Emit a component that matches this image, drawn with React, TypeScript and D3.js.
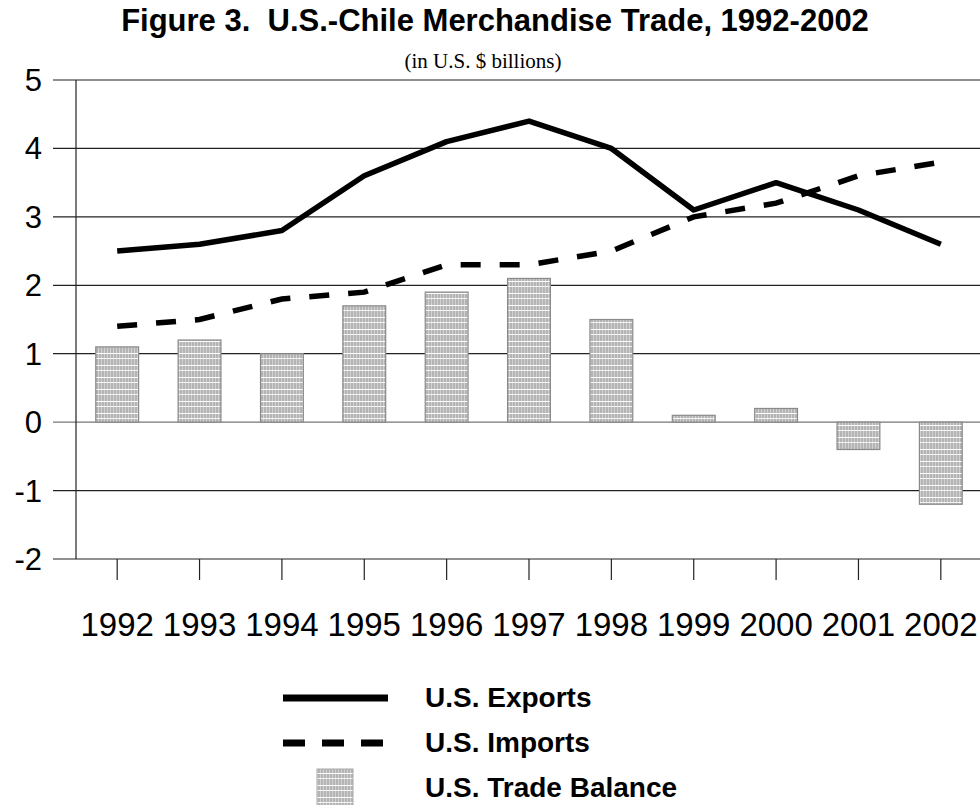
import { useEffect, useRef } from 'react';
import * as d3 from 'd3';

const years = ['1992', '1993', '1994', '1995', '1996', '1997', '1998', '1999', '2000', '2001', '2002'];
const exportsData = [2.5, 2.6, 2.8, 3.6, 4.1, 4.4, 4.0, 3.1, 3.5, 3.1, 2.6];
const importsData = [1.4, 1.5, 1.8, 1.9, 2.3, 2.3, 2.5, 3.0, 3.2, 3.6, 3.8];
const balanceData = [1.1, 1.2, 1.0, 1.7, 1.9, 2.1, 1.5, 0.1, 0.2, -0.4, -1.2];
const yTicks = [-2, -1, 0, 1, 2, 3, 4, 5];
const legendItems = ['U.S. Exports', 'U.S. Imports', 'U.S. Trade Balance'];

export default function App() {
  const svgRef = useRef<SVGSVGElement>(null);

  useEffect(() => {
    if (!svgRef.current) return;
    const svg = d3.select(svgRef.current);
    svg.selectAll('*').remove();

    const W = 980;
    const H = 805;
    const left = 76;
    const right = 982;
    const top = 80;
    const bottom = 559;
    const sans = 'Arial, "Liberation Sans", sans-serif';

    // hatch pattern for the balance bars
    const defs = svg.append('defs');
    const pat = defs.append('pattern')
      .attr('id', 'hatch')
      .attr('patternUnits', 'userSpaceOnUse')
      .attr('width', 3)
      .attr('height', 12);
    pat.append('rect').attr('width', 3).attr('height', 12).attr('fill', '#b4b4b4');
    pat.append('rect').attr('x', 2).attr('width', 1).attr('height', 12).attr('fill', '#d2d2d2');
    pat.append('rect').attr('y', 5).attr('width', 3).attr('height', 1).attr('fill', '#ffffff');
    pat.append('rect').attr('y', 10).attr('width', 3).attr('height', 1).attr('fill', '#f4f4f4');

    const x = d3.scaleBand<string>().domain(years).range([left, right]).paddingInner(0.48).paddingOuter(0.24);
    const xc = (d: string) => (x(d) as number) + x.bandwidth() / 2;
    const y = d3.scaleLinear().domain([-2, 5]).range([bottom, top]);

    // title
    svg.append('text')
      .attr('x', 495).attr('y', 31)
      .attr('text-anchor', 'middle')
      .style('white-space', 'pre')
      .style('font-family', sans)
      .style('font-weight', 'bold')
      .style('font-size', '31px')
      .text('Figure 3.  U.S.-Chile Merchandise Trade, 1992-2002');
    svg.append('text')
      .attr('x', 483).attr('y', 68)
      .attr('text-anchor', 'middle')
      .style('font-family', '"Times New Roman", "Liberation Serif", serif')
      .style('font-size', '21px')
      .text('(in U.S. $ billions)');

    // gridlines
    svg.append('g').selectAll('line')
      .data(yTicks)
      .enter()
      .append('line')
      .attr('x1', 53).attr('x2', W)
      .attr('y1', d => y(d)).attr('y2', d => y(d))
      .attr('stroke', d => (d === 0 ? '#777' : '#222'))
      .attr('stroke-width', 1.2);

    // y labels
    svg.append('g').selectAll('text')
      .data(yTicks)
      .enter()
      .append('text')
      .attr('x', 42).attr('y', d => y(d) + 11)
      .attr('text-anchor', 'end')
      .style('font-family', sans)
      .style('font-size', '31px')
      .text(d => d);

    // y axis line
    svg.append('line')
      .attr('x1', left).attr('x2', left)
      .attr('y1', top).attr('y2', bottom)
      .attr('stroke', '#222').attr('stroke-width', 1.2);

    // x ticks
    svg.append('g').selectAll('line')
      .data(years)
      .enter()
      .append('line')
      .attr('x1', d => xc(d)).attr('x2', d => xc(d))
      .attr('y1', bottom).attr('y2', bottom + 21)
      .attr('stroke', '#222').attr('stroke-width', 1.2);

    svg.append('g').selectAll('text')
      .data(years)
      .enter()
      .append('text')
      .attr('x', d => xc(d)).attr('y', 636)
      .attr('text-anchor', 'middle')
      .style('font-family', sans)
      .style('font-size', '33px')
      .text(d => d);

    // bars
    svg.append('g').selectAll('rect')
      .data(balanceData)
      .enter()
      .append('rect')
      .attr('x', (_, i) => x(years[i]) as number)
      .attr('width', x.bandwidth())
      .attr('y', d => y(Math.max(0, d)))
      .attr('height', d => Math.abs(y(d) - y(0)))
      .attr('fill', 'url(#hatch)')
      .attr('stroke', '#8a8a8a')
      .attr('stroke-width', 1.2);

    const line = d3.line<number>()
      .x((_, i) => xc(years[i]))
      .y(d => y(d));

    svg.append('path')
      .datum(importsData)
      .attr('fill', 'none')
      .attr('stroke', '#000')
      .attr('stroke-width', 5.5)
      .attr('stroke-dasharray', '20,19')
      .attr('d', line);

    svg.append('path')
      .datum(exportsData)
      .attr('fill', 'none')
      .attr('stroke', '#000')
      .attr('stroke-width', 5.5)
      .attr('stroke-linejoin', 'round')
      .attr('d', line);

    // legend
    const legendY = [698, 743, 788];
    const lg = svg.append('g');
    lg.append('line')
      .attr('x1', 283).attr('x2', 388)
      .attr('y1', legendY[0]).attr('y2', legendY[0])
      .attr('stroke', '#000').attr('stroke-width', 7);
    lg.append('line')
      .attr('x1', 283).attr('x2', 388)
      .attr('y1', legendY[1]).attr('y2', legendY[1])
      .attr('stroke', '#000').attr('stroke-width', 7)
      .attr('stroke-dasharray', '22,17');
    lg.append('rect')
      .attr('x', 317).attr('y', legendY[2] - 19)
      .attr('width', 36).attr('height', 40)
      .attr('fill', 'url(#hatch)')
      .attr('stroke', '#aaa').attr('stroke-width', 1);
    lg.selectAll('text')
      .data(legendItems)
      .enter()
      .append('text')
      .attr('x', 425).attr('y', (_, i) => legendY[i] + 9)
      .style('font-family', sans)
      .style('font-weight', 'bold')
      .style('font-size', '28px')
      .text(d => d);

    svg.attr('width', W).attr('height', H);
  }, []);

  return (
    <div style={{ position: 'absolute', left: 0, top: 0, background: '#fff' }}>
      <svg ref={svgRef} width={980} height={805} style={{ display: 'block' }}></svg>
    </div>
  );
}
